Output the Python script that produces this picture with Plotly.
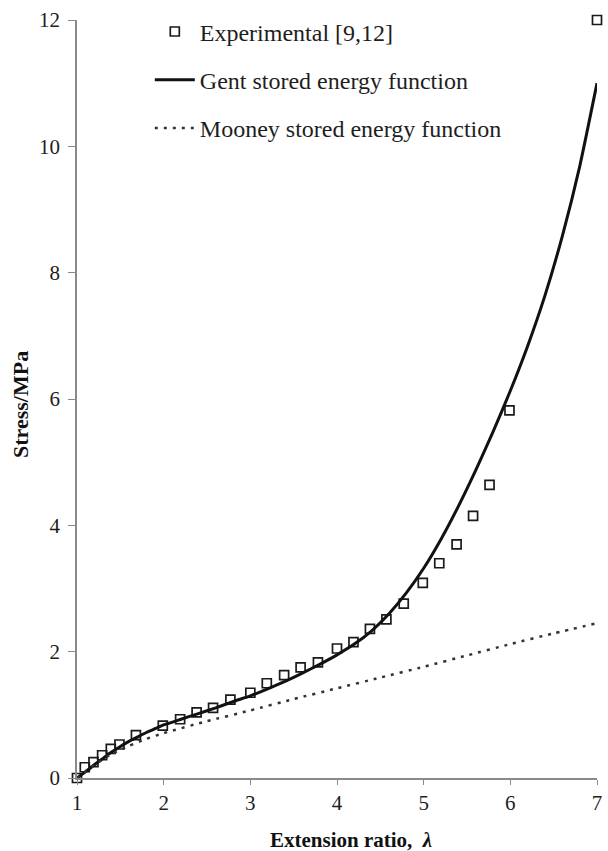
import plotly.graph_objects as go

# Experimental data [9,12]
exp_x = [1.0, 1.09, 1.19, 1.29, 1.39, 1.49, 1.68, 1.99, 2.19, 2.38, 2.57, 2.77, 3.0, 3.19,
         3.39, 3.58, 3.78, 4.0, 4.19, 4.38, 4.57, 4.77, 4.99, 5.18, 5.38, 5.57, 5.76, 5.99, 7.0]
exp_y = [0.0, 0.17, 0.25, 0.36, 0.46, 0.53, 0.68, 0.83, 0.93, 1.04, 1.11, 1.24, 1.35, 1.50,
         1.63, 1.75, 1.83, 2.05, 2.15, 2.36, 2.51, 2.76, 3.09, 3.40, 3.70, 4.15, 4.64, 5.82, 12.0]

# Gent stored energy function
gent_x = [1.0, 1.1, 1.2, 1.3, 1.4, 1.5, 1.6, 1.7, 1.8, 1.9, 2.0, 2.2, 2.4, 2.6, 2.8, 3.0,
          3.2, 3.4, 3.6, 3.8, 4.0, 4.2, 4.4, 4.6, 4.8, 5.0, 5.2, 5.4, 5.6, 5.8, 6.0,
          6.2, 6.4, 6.6, 6.8, 7.0]
gent_y = [0.0, 0.10, 0.21, 0.31, 0.41, 0.50, 0.58, 0.65, 0.72, 0.78, 0.84, 0.93, 1.02, 1.11,
          1.21, 1.30, 1.41, 1.53, 1.66, 1.80, 1.95, 2.12, 2.33, 2.60, 2.93, 3.32, 3.78, 4.30,
          4.87, 5.48, 6.13, 6.84, 7.64, 8.58, 9.68, 11.0]

# Mooney stored energy function
mooney_x = [1.0, 1.2, 1.4, 1.6, 1.8, 2.0, 2.5, 3.0, 3.5, 4.0, 4.5, 5.0, 5.5, 6.0, 6.5, 7.0]
mooney_y = [0.0, 0.21, 0.38, 0.51, 0.62, 0.71, 0.90, 1.07, 1.25, 1.42, 1.59, 1.76, 1.94, 2.12, 2.29, 2.45]

x_ticks = [1, 2, 3, 4, 5, 6, 7]
y_ticks = [0, 2, 4, 6, 8, 10, 12]

SERIF = "Liberation Serif, Times New Roman, serif"
AXIS_COLOR = "#8a8a8a"
TEXT = "#1e1e1e"

fig = go.Figure()
fig.add_trace(go.Scatter(
    x=exp_x, y=exp_y, mode="markers", name="Experimental [9,12]",
    legendgroup="a", cliponaxis=False,
    marker=dict(symbol="square-open", size=9, color="#1a1a1a", line=dict(width=1.7, color="#1a1a1a")),
))
fig.add_trace(go.Scatter(
    x=gent_x, y=gent_y, mode="lines", name="Gent stored energy function",
    legendgroup="b", line=dict(color="#111111", width=3, shape="spline", smoothing=0.5),
))
fig.add_trace(go.Scatter(
    x=mooney_x, y=mooney_y, mode="lines", name="Mooney stored energy function",
    legendgroup="c", line=dict(color="#333333", width=2.5, dash="3px,6px", shape="spline", smoothing=0.5),
))

fig.update_layout(
    width=608, height=851,
    margin=dict(l=77, r=6, t=20, b=73),
    paper_bgcolor="white", plot_bgcolor="white",
    font=dict(family=SERIF, size=21, color=TEXT),
    showlegend=True,
    legend=dict(
        x=0.14, y=1.014, xanchor="left", yanchor="top",
        font=dict(family=SERIF, size=24, color=TEXT),
        bgcolor="rgba(0,0,0,0)", tracegroupgap=14, itemwidth=40,
    ),
    xaxis=dict(
        range=[1, 7], tickvals=x_ticks, ticktext=[str(v) for v in x_ticks],
        showgrid=False, zeroline=False, showline=True, linecolor=AXIS_COLOR, linewidth=1.5,
        ticks="outside", ticklen=5, tickwidth=1.2, tickcolor=AXIS_COLOR,
        tickfont=dict(family=SERIF, size=21, color=TEXT),
    ),
    yaxis=dict(
        range=[0, 12], tickvals=y_ticks, ticktext=[str(v) for v in y_ticks],
        showgrid=False, zeroline=False, showline=True, linecolor=AXIS_COLOR, linewidth=1.5,
        ticks="outside", ticklen=7, tickwidth=1.2, tickcolor=AXIS_COLOR,
        ticklabelstandoff=4,
        tickfont=dict(family=SERIF, size=21, color=TEXT),
    ),
    annotations=[
        dict(text="<b>Extension ratio,  <i>λ</i></b>", xref="paper", yref="paper",
             x=0.527, y=0, yshift=-62, xanchor="center", yanchor="middle", showarrow=False,
             font=dict(family=SERIF, size=21, color="#111111")),
        dict(text="<b>Stress/MPa</b>", xref="paper", yref="paper",
             x=0, xshift=-57, y=0.5, yshift=-6, xanchor="center", yanchor="middle",
             textangle=-90, showarrow=False,
             font=dict(family=SERIF, size=22, color="#111111")),
    ],
)

fig.write_html("out.html", config={"displayModeBar": False},
               post_script="document.body.style.margin='0';document.body.style.overflow='hidden';")
